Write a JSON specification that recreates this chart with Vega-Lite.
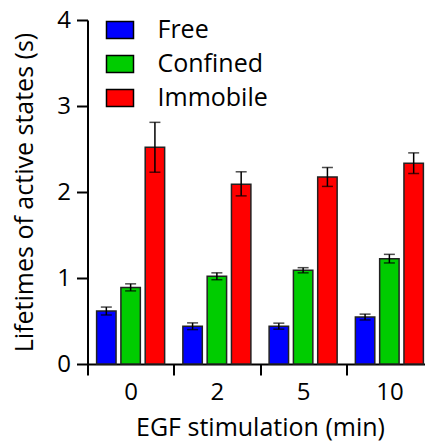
{
  "$schema": "https://vega.github.io/schema/vega-lite/v6.json",
  "width": 337.5,
  "height": 344,
  "autosize": {"type": "none"},
  "padding": {"left": 87.5, "top": 20, "right": 0, "bottom": 78},
  "background": "white",
  "config": {
    "font": "Open Sans",
    "view": {"stroke": null},
    "axis": {
      "grid": false,
      "domainColor": "black",
      "tickColor": "black",
      "labelColor": "black",
      "titleColor": "black",
      "domainWidth": 2,
      "tickWidth": 2,
      "labelFont": "Open Sans",
      "titleFont": "Open Sans",
      "labelFontSize": 24,
      "titleFontSize": 25,
      "titleFontWeight": "normal"
    },
    "legend": {"labelFont": "Open Sans"}
  },
  "data": {
    "values": [
      {"time": "0", "state": "Free", "mean": 0.616, "lo": 0.57, "hi": 0.662},
      {"time": "0", "state": "Confined", "mean": 0.89, "lo": 0.85, "hi": 0.932},
      {"time": "0", "state": "Immobile", "mean": 2.52, "lo": 2.23, "hi": 2.81},
      {"time": "2", "state": "Free", "mean": 0.438, "lo": 0.4, "hi": 0.478},
      {"time": "2", "state": "Confined", "mean": 1.02, "lo": 0.98, "hi": 1.06},
      {"time": "2", "state": "Immobile", "mean": 2.09, "lo": 1.955, "hi": 2.235},
      {"time": "5", "state": "Free", "mean": 0.44, "lo": 0.405, "hi": 0.475},
      {"time": "5", "state": "Confined", "mean": 1.09, "lo": 1.06, "hi": 1.12},
      {"time": "5", "state": "Immobile", "mean": 2.175, "lo": 2.065, "hi": 2.285},
      {"time": "10", "state": "Free", "mean": 0.546, "lo": 0.512, "hi": 0.58},
      {"time": "10", "state": "Confined", "mean": 1.224, "lo": 1.175, "hi": 1.275},
      {"time": "10", "state": "Immobile", "mean": 2.335, "lo": 2.215, "hi": 2.455}
    ]
  },
  "encoding": {
    "x": {
      "field": "time",
      "type": "nominal",
      "sort": ["0", "2", "5", "10"],
      "scale": {"domain": ["0", "2", "5", "10"], "range": [0, 345], "paddingInner": 0, "paddingOuter": 0},
      "axis": {"title": "EGF stimulation (min)", "labelAngle": 0, "tickBand": "extent", "tickSize": 11, "labelPadding": 5, "titlePadding": 11}
    },
    "xOffset": {
      "field": "state",
      "type": "nominal",
      "sort": ["Free", "Confined", "Immobile"],
      "scale": {"domain": ["Free", "Confined", "Immobile"], "paddingInner": 0.2, "paddingOuter": 0.375}
    }
  },
  "layer": [
    {
      "mark": {"type": "bar", "stroke": "#222222", "strokeWidth": 1.5},
      "encoding": {
        "y": {
          "field": "mean",
          "type": "quantitative",
          "scale": {"domain": [0, 4]},
          "axis": {"title": "Lifetimes of active states (s)", "values": [0, 1, 2, 3, 4], "format": "d", "tickSize": 11, "labelPadding": 6, "titlePadding": 19}
        },
        "color": {
          "field": "state",
          "type": "nominal",
          "scale": {"domain": ["Free", "Confined", "Immobile"], "range": ["#0000FF", "#00CC00", "#FF0000"]},
          "legend": {
            "orient": "none",
            "legendX": 20,
            "legendY": -2.5,
            "title": null,
            "padding": 0,
            "symbolType": "M-1.6,-1H1.6V1H-1.6Z",
            "symbolSize": 285,
            "symbolStrokeColor": "black",
            "symbolStrokeWidth": 1.5,
            "symbolOpacity": 1,
            "labelFontSize": 25,
            "labelColor": "black",
            "labelOffset": 25,
            "rowPadding": 8
          }
        }
      }
    },
    {
      "mark": {"type": "rule", "color": "black", "strokeWidth": 1.5},
      "encoding": {
        "y": {"field": "lo", "type": "quantitative"},
        "y2": {"field": "hi"}
      }
    },
    {
      "mark": {"type": "tick", "color": "black", "size": 11, "thickness": 1.5},
      "encoding": {"y": {"field": "hi", "type": "quantitative"}}
    },
    {
      "mark": {"type": "tick", "color": "black", "size": 11, "thickness": 1.5},
      "encoding": {"y": {"field": "lo", "type": "quantitative"}}
    }
  ]
}
